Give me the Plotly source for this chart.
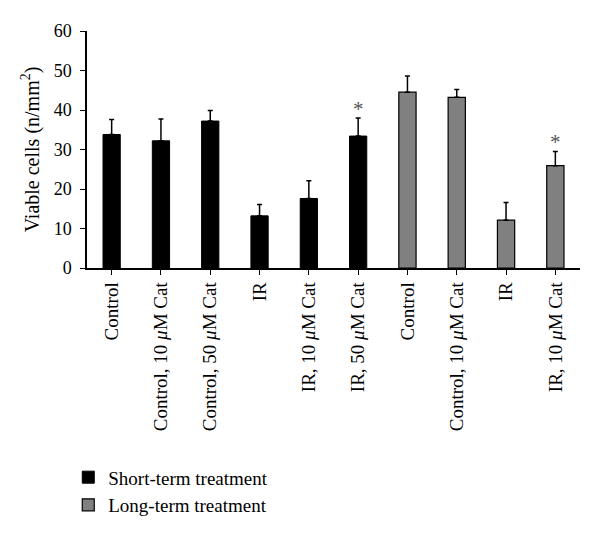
import plotly.graph_objects as go

short_labels = ["Control", "Control, 10 <i>μ</i>M Cat", "Control, 50 <i>μ</i>M Cat",
                "IR", "IR, 10 <i>μ</i>M Cat", "IR, 50 <i>μ</i>M Cat"]
short_values = [33.8, 32.2, 37.2, 13.2, 17.6, 33.4]
short_errors = [3.8, 5.5, 2.7, 2.9, 4.5, 4.6]
short_sig = [False, False, False, False, False, True]

long_labels = ["Control", "Control, 10 <i>μ</i>M Cat", "IR", "IR, 10 <i>μ</i>M Cat"]
long_values = [44.5, 43.2, 12.1, 25.9]
long_errors = [4.1, 2.0, 4.5, 3.6]
long_sig = [False, False, False, True]

y_ticks = [0, 10, 20, 30, 40, 50, 60]

all_labels = short_labels + long_labels
x_short = list(range(len(short_labels)))
x_long = list(range(len(short_labels), len(all_labels)))

font_family = "Liberation Serif, Times New Roman, serif"

fig = go.Figure()
fig.add_trace(go.Bar(
    x=x_short, y=short_values, name="Short-term treatment",
    marker=dict(color="black", line=dict(color="black", width=1)),
    width=0.35,
    error_y=dict(type="data", array=short_errors, arrayminus=[0]*len(short_errors),
                 symmetric=False, color="black", thickness=1.5, width=2.5),
))
fig.add_trace(go.Bar(
    x=x_long, y=long_values, name="Long-term treatment",
    marker=dict(color="#808080", line=dict(color="black", width=1.2)),
    width=0.35,
    error_y=dict(type="data", array=long_errors, arrayminus=[0]*len(long_errors),
                 symmetric=False, color="black", thickness=1.5, width=2.5),
))

xs = x_short + x_long
vals = short_values + long_values
errs = short_errors + long_errors
sigs = short_sig + long_sig
for x, v, e, s in zip(xs, vals, errs, sigs):
    if s:
        fig.add_annotation(x=x, y=v + e, text="*", showarrow=False, yanchor="bottom",
                           yshift=-5, font=dict(family=font_family, size=21, color="#555"))

fig.update_layout(
    width=600, height=534,
    margin=dict(l=79, r=28, t=23, b=274),
    plot_bgcolor="white", paper_bgcolor="white",
    font=dict(family=font_family, size=19, color="black"),
    showlegend=True,
    legend=dict(x=-0.038, y=-0.803, xanchor="left", yanchor="top",
                font=dict(family=font_family, size=19), bgcolor="rgba(0,0,0,0)",
                itemwidth=30, tracegroupgap=0),
    bargap=0.65,
)
fig.update_xaxes(
    range=[-0.5, len(all_labels) - 0.5],
    tickvals=list(range(len(all_labels))), ticktext=all_labels,
    tickangle=-90, showline=True, linecolor="black", linewidth=1.5,
    ticks="outside", tickson="boundaries", ticklen=5, tickcolor="black",
    showgrid=False, zeroline=False, tickfont=dict(size=19), automargin=False,
)
fig.update_yaxes(
    range=[0, 60], tickvals=y_ticks, showline=True, linecolor="black", linewidth=1.5,
    ticks="outside", ticklen=5, tickcolor="black", showgrid=False, zeroline=False,
    tickfont=dict(size=18), automargin=False, ticklabelstandoff=5,
    title=dict(text="Viable cells (n/mm<sup>2</sup>)", font=dict(size=20), standoff=9),
)

fig.write_html("out.html")
